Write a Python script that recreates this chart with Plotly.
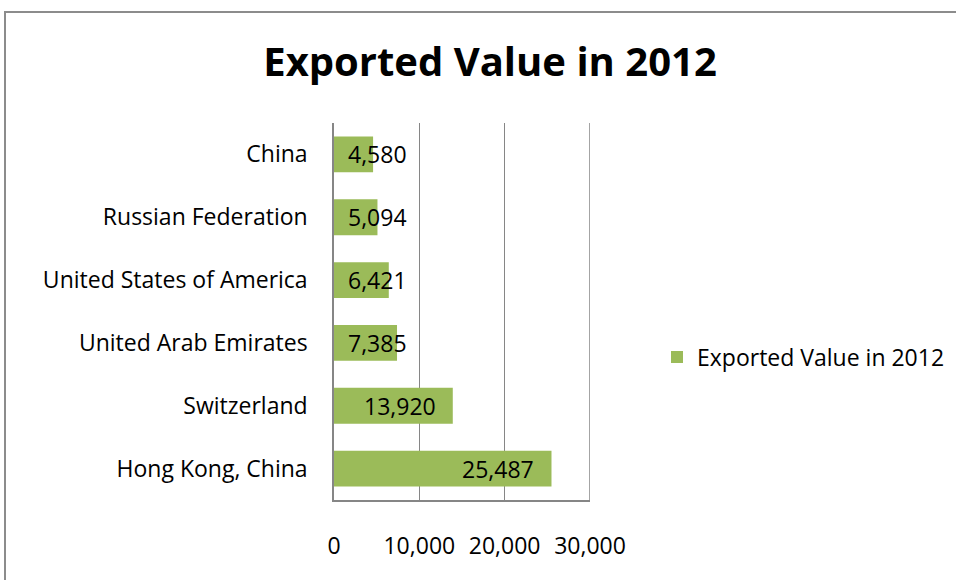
import plotly.graph_objects as go

categories = ["Hong Kong, China", "Switzerland", "United Arab Emirates",
              "United States of America", "Russian Federation", "China"]
values = [25487, 13920, 7385, 6421, 5094, 4580]
series_name = "Exported Value in 2012"
title_text = "Exported Value in 2012"
tick_vals = [0, 10000, 20000, 30000]
tick_text = ["0", "10,000", "20,000", "30,000"]

W, H = 956, 580
L, R, T, B = 334, 366, 123, 80
plot_w = W - L - R
plot_h = H - T - B
xmax = 30000
FONT = "Open Sans"
FS = 23
GREEN = "#9BBB59"
GRAY = "#868686"

fig = go.Figure()
fig.add_trace(go.Bar(
    y=categories, x=values, orientation="h", name=series_name,
    marker=dict(color=GREEN, line=dict(width=0)),
    showlegend=True,
))

# data labels (inside end if fits, else near base)
px_per = plot_w / xmax
char_w = 12.0
for c, v in zip(categories, values):
    label = f"{v:,}"
    lw = len(label) * char_w
    if v * px_per - 17 - lw >= 15:
        fig.add_annotation(x=v, y=c, text=label, xanchor="right", xshift=-15,
                           showarrow=False, font=dict(family=FONT, size=FS, color="black"))
    else:
        fig.add_annotation(x=0, y=c, text=label, xanchor="left", xshift=12,
                           showarrow=False, font=dict(family=FONT, size=FS, color="black"))

# right-edge gridline at axis maximum
fig.add_shape(type="line", xref="x", yref="paper", x0=xmax, x1=xmax, y0=0, y1=1,
              line=dict(color=GRAY, width=1.5))

# outer chart border
fig.add_shape(type="rect", xref="paper", yref="paper",
              x0=(5 - L) / plot_w, x1=(W + 20 - L) / plot_w,
              y0=(H - B - (H + 20)) / plot_h, y1=(H - B - 12) / plot_h,
              line=dict(color="#8C8C8C", width=2), fillcolor="rgba(0,0,0,0)", layer="below")

fig.update_layout(
    width=W, height=H,
    margin=dict(l=L, r=R, t=T, b=B, autoexpand=False),
    paper_bgcolor="white", plot_bgcolor="white",
    font=dict(family=FONT, size=FS, color="black"),
    title=dict(text=f"<b>{title_text}</b>", x=490 / W, xanchor="center",
               y=1 - 62 / H, yanchor="middle", xref="container", yref="container",
               font=dict(family=FONT, size=40, color="black")),
    bargap=0.43,
    legend=dict(x=(657 - L) / plot_w, xanchor="left", y=(H - B - 357) / plot_h, yanchor="middle",
                font=dict(family=FONT, size=FS), bgcolor="rgba(0,0,0,0)"),
    xaxis=dict(range=[0, xmax], tickvals=tick_vals, ticktext=tick_text,
               showgrid=True, gridcolor=GRAY, gridwidth=1.2,
               showline=True, linecolor=GRAY, linewidth=1.5, mirror=False,
               zeroline=False, ticks="", ticklabelstandoff=25,
               tickfont=dict(family=FONT, size=FS)),
    yaxis=dict(showline=True, linecolor=GRAY, linewidth=1.5, showgrid=False,
               ticks="", ticklabelstandoff=20, tickfont=dict(family=FONT, size=FS)),
)

fig.write_html("out.html")
